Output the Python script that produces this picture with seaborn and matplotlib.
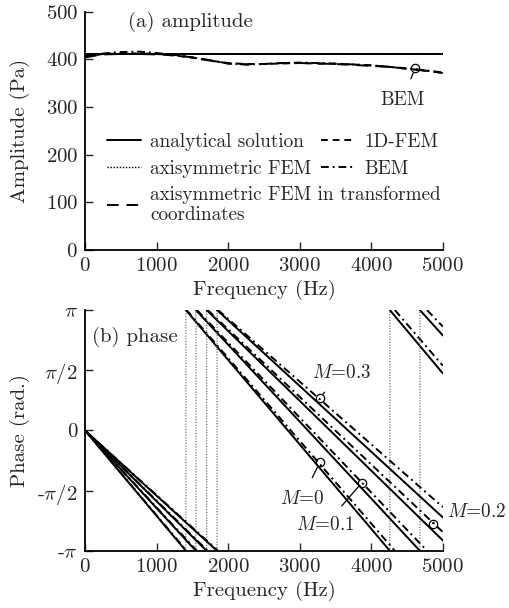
import numpy as np
import pandas as pd
import seaborn as sns
import matplotlib.pyplot as plt
from matplotlib.lines import Line2D

# Amplitude data (a)
amp_freq = [0, 250, 500, 750, 1000, 1250, 1500, 1750, 2000, 2250, 2500,
            2750, 3000, 3250, 3500, 3750, 4000, 4250, 4500, 4750, 5000]
amp_analytical_freq = [0, 5000]
amp_analytical = [410, 410]
amp_axisym = [407, 411, 412, 412, 412, 411, 411, 411, 411, 411, 411,
              411, 411, 411, 411, 411, 411, 411, 411, 411, 411]
amp_1dfem = [405, 411, 412, 412, 411, 408, 403, 397, 392, 390, 390,
             391, 392, 391, 390, 389, 387, 384, 380, 376, 372]
amp_bem = [406, 412, 415, 416, 413, 409, 404, 397, 391, 389, 390,
           392, 393, 392, 391, 389, 387, 384, 381, 377, 372]
amp_transformed = [404, 410, 411, 411, 410, 408, 404, 398, 391, 389, 390,
                   392, 392, 391, 390, 388, 386, 384, 380, 376, 371]

# Phase data (b): frequencies (Hz) where the wrapped phase reaches -pi,
# and phase value (rad) at 5000 Hz, for each Mach number
mach = [0, 0.1, 0.2, 0.3]
wrap_analytical = [[1410, 4260], [1550, 4680], [1700], [1845]]
end_analytical = [1.49, 2.48, -2.87, -2.27]
wrap_bem = [[1420, 4330], [1565, 4780], [1715], [1860]]
end_bem = [1.69, 2.71, -2.65, -2.0]

# Annotation circles (Hz, rad) and text positions
label_mach = ['$M$=0', '$M$=0.1', '$M$=0.2', '$M$=0.3']
circle_freq = [3282, 3870, 4860, 3282]
circle_phase = [-0.83, -1.36, -2.43, 0.86]
text_freq = [3030, 3350, 5470, 3590]
text_phase = [-1.78, -2.48, -2.14, 1.51]

F_MAX = 5000


def wrapped_segments(wraps, end):
    xs = [0] + [w for w in wraps for _ in (0, 1)] + [F_MAX]
    ys = [0.0] + [v for _ in wraps for v in (-np.pi, np.pi)] + [end]
    return [(xs[k:k + 2], ys[k:k + 2]) for k in range(0, len(xs), 2)], xs, ys


sns.set_style('ticks')
plt.rcParams['font.family'] = ['cmr10', 'DejaVu Serif']
plt.rcParams['mathtext.fontset'] = 'cm'
plt.rcParams['axes.unicode_minus'] = False
plt.rcParams['axes.formatter.use_mathtext'] = True
plt.rcParams['xtick.direction'] = 'in'
plt.rcParams['ytick.direction'] = 'in'

FS = 15
FS_LEG = 13.8
ls_solid = '-'
ls_dot = (0, (1, 1.2))
ls_1d = (0, (3.5, 2.5))
ls_bem = (0, (4, 2, 1, 2))
ls_trans = (0, (6, 4))
LW = 1.4

fig = plt.figure(figsize=(5.09, 6.08), dpi=100)
ax1 = fig.add_axes([0.167, 0.589, 0.703, 0.392])
ax2 = fig.add_axes([0.167, 0.094, 0.703, 0.396])

# ---- (a) amplitude
sns.lineplot(x=amp_analytical_freq, y=amp_analytical, ax=ax1, color='k', lw=LW, linestyle=ls_solid)
sns.lineplot(x=amp_freq, y=amp_axisym, ax=ax1, color='k', lw=1.0, linestyle=ls_dot)
sns.lineplot(x=amp_freq, y=amp_1dfem, ax=ax1, color='k', lw=LW, linestyle=ls_1d)
sns.lineplot(x=amp_freq, y=amp_bem, ax=ax1, color='k', lw=LW, linestyle=ls_bem)
sns.lineplot(x=amp_freq, y=amp_transformed, ax=ax1, color='k', lw=LW, linestyle=ls_trans)

ax1.set_xlim(0, F_MAX)
ax1.set_ylim(0, 500)
ax1.set_xticks([0, 1000, 2000, 3000, 4000, 5000])
ax1.set_yticks([0, 100, 200, 300, 400, 500])
ax1.set_xlabel('Frequency (Hz)', fontsize=FS)
ax1.set_ylabel('Amplitude (Pa)', fontsize=FS)
ax1.text(0.12, 0.958, '(a) amplitude', transform=ax1.transAxes, fontsize=FS, va='center')

ax1.plot(4610, 381, marker='o', mfc='none', mec='k', ms=6, mew=0.9)
ax1.annotate('BEM', xy=(4610, 381), xytext=(4440, 314), fontsize=FS_LEG, ha='center', va='center',
             arrowprops=dict(arrowstyle='-', color='k', lw=0.9, shrinkA=7, shrinkB=3.5))

h_an = Line2D([], [], color='k', lw=LW, linestyle=ls_solid)
h_ax = Line2D([], [], color='k', lw=1.0, linestyle=ls_dot)
h_1d = Line2D([], [], color='k', lw=LW, linestyle=ls_1d)
h_bem = Line2D([], [], color='k', lw=LW, linestyle=ls_bem)
h_tr = Line2D([], [], color='k', lw=LW, linestyle=ls_trans)

leg1 = ax1.legend([h_an, h_ax, h_1d, h_bem],
                  ['analytical solution', 'axisymmetric FEM', '1D-FEM', 'BEM'],
                  ncol=2, loc='upper left', bbox_to_anchor=(0.061, 0.49), frameon=False,
                  fontsize=FS_LEG, handlelength=1.8, handletextpad=0.45, columnspacing=0.5,
                  borderpad=0, borderaxespad=0, labelspacing=0.45)
ax1.add_artist(leg1)
ax1.legend([h_tr], ['axisymmetric FEM in transformed\ncoordinates'],
           loc='upper left', bbox_to_anchor=(0.061, 0.27), frameon=False,
           fontsize=FS_LEG, handlelength=1.8, handletextpad=0.45,
           borderpad=0, borderaxespad=0)

# ---- (b) phase
for i in range(len(mach)):
    segs, xs, ys = wrapped_segments(wrap_analytical[i], end_analytical[i])
    sns.lineplot(x=xs, y=ys, ax=ax2, color='0.45', lw=0.9, linestyle=ls_dot,
                 estimator=None, sort=False)
    for sx, sy in segs:
        sns.lineplot(x=sx, y=sy, ax=ax2, color='k', lw=LW, linestyle=ls_solid,
                     estimator=None, sort=False)
    segs_b, _, _ = wrapped_segments(wrap_bem[i], end_bem[i])
    for sx, sy in segs_b:
        sns.lineplot(x=sx, y=sy, ax=ax2, color='k', lw=LW, linestyle=ls_bem,
                     estimator=None, sort=False)

for i in range(len(mach)):
    ax2.plot(circle_freq[i], circle_phase[i], marker='o', mfc='none', mec='k', ms=6, mew=0.9)
    ax2.annotate(label_mach[i], xy=(circle_freq[i], circle_phase[i]),
                 xytext=(text_freq[i], text_phase[i]), fontsize=FS_LEG, ha='center', va='center',
                 annotation_clip=False,
                 arrowprops=dict(arrowstyle='-', color='k', lw=0.9, shrinkA=7, shrinkB=3.5))

ax2.set_xlim(0, F_MAX)
ax2.set_ylim(-np.pi, np.pi)
ax2.set_xticks([0, 1000, 2000, 3000, 4000, 5000])
ax2.set_yticks([-np.pi, -np.pi / 2, 0, np.pi / 2, np.pi])
ax2.set_yticklabels(['-$\\pi$', '-$\\pi/2$', '0', '$\\pi/2$', '$\\pi$'])
ax2.set_xlabel('Frequency (Hz)', fontsize=FS)
ax2.set_ylabel('Phase (rad.)', fontsize=FS)
ax2.text(0.02, 0.888, '(b) phase', transform=ax2.transAxes, fontsize=FS, va='center',
         bbox=dict(facecolor='white', edgecolor='none', pad=1))

for ax in (ax1, ax2):
    sns.despine(ax=ax)
    ax.tick_params(labelsize=FS, length=6, width=1.0, pad=5)
    for s in ('left', 'bottom'):
        ax.spines[s].set_linewidth(1.3)
        ax.spines[s].set_color('k')
    ax.yaxis.set_label_coords(-0.155, 0.5)

ax1.xaxis.set_label_coords(0.5, -0.125)
ax2.xaxis.set_label_coords(0.5, -0.126)

fig.savefig('out.png', dpi=100)
